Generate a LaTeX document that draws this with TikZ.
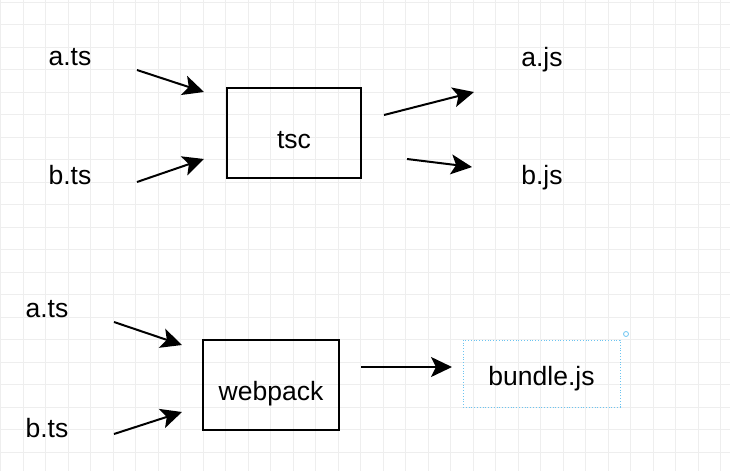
\documentclass[tikz,border=0pt]{standalone}
\usepackage{fontspec}
\setmainfont{Liberation Sans}
\usetikzlibrary{arrows.meta}
\definecolor{gridgray}{HTML}{EEEEEE}
\definecolor{selblue}{HTML}{6CC4F0}

\begin{document}
\begin{tikzpicture}[x = 1pt, y = -1pt]

\tikzset{
file/.style = {font = \fontsize{26.5}{30}\selectfont, inner sep = 0pt},
compiler/.style = {rectangle, draw, line width = 1.6pt, file, text height = 30pt, text depth = 0pt},
output/.style = {rectangle, draw = selblue, dotted, line width = 0.8pt, file, text height = 24pt, text depth = 0pt},
flow/.style = {-{Stealth[length = 21pt, width = 20pt, inset = 5pt]}, line width = 2pt},
}

\useasboundingbox (0, 0) rectangle (730, 471);

% Grid
\foreach \gx in {0, ..., 32} {
  \draw [gridgray, line width = 0.8pt] (0.5 + 22.5 * \gx, 0) -- (0.5 + 22.5 * \gx, 471);
}
\foreach \gy in {0, ..., 20} {
  \draw [gridgray, line width = 0.8pt] (0, 2 + 22.5 * \gy) -- (730, 2 + 22.5 * \gy);
}

% tsc
\node at (70, 57) [file] (ats) {a.ts};
\node at (70, 175) [file] (bts) {b.ts};
\node at (294, 133) [compiler, minimum width = 134pt, minimum height = 90pt] (tsc) {tsc};
\node at (542, 60) [file] (ajs) {a.js};
\node at (542, 178) [file] (bjs) {b.js};

\coordinate (ats out) at (137, 70);
\coordinate (tsc in a) at (204, 92);
\coordinate (bts out) at (137, 182);
\coordinate (tsc in b) at (204, 159);
\coordinate (tsc out a) at (384, 115);
\coordinate (ajs in) at (474, 92);
\coordinate (tsc out b) at (407, 159);
\coordinate (bjs in) at (472, 167);

\path [flow] (ats out) edge [] (tsc in a);
\path [flow] (bts out) edge [] (tsc in b);
\path [flow] (tsc out a) edge [] (ajs in);
\path [flow] (tsc out b) edge [] (bjs in);

% webpack
\node at (47, 309) [file] (ats2) {a.ts};
\node at (47, 428) [file] (bts2) {b.ts};
\node at (271, 385) [compiler, minimum width = 136pt, minimum height = 90pt] (webpack) {webpack};
\node at (541.5, 373.5) [output, minimum width = 157pt, minimum height = 67pt] (bundle) {bundle.js};
\node at (626, 334) [circle, draw = selblue, line width = 0.8pt, minimum size = 5pt, inner sep = 0pt] (handle) {};

\coordinate (ats2 out) at (114, 322);
\coordinate (webpack in a) at (182, 345);
\coordinate (bts2 out) at (114, 434);
\coordinate (webpack in b) at (182, 412);
\coordinate (webpack out) at (361, 367);
\coordinate (bundle in) at (452, 367);

\path [flow] (ats2 out) edge [] (webpack in a);
\path [flow] (bts2 out) edge [] (webpack in b);
\path [flow] (webpack out) edge [] (bundle in);

\end{tikzpicture}
\end{document}
